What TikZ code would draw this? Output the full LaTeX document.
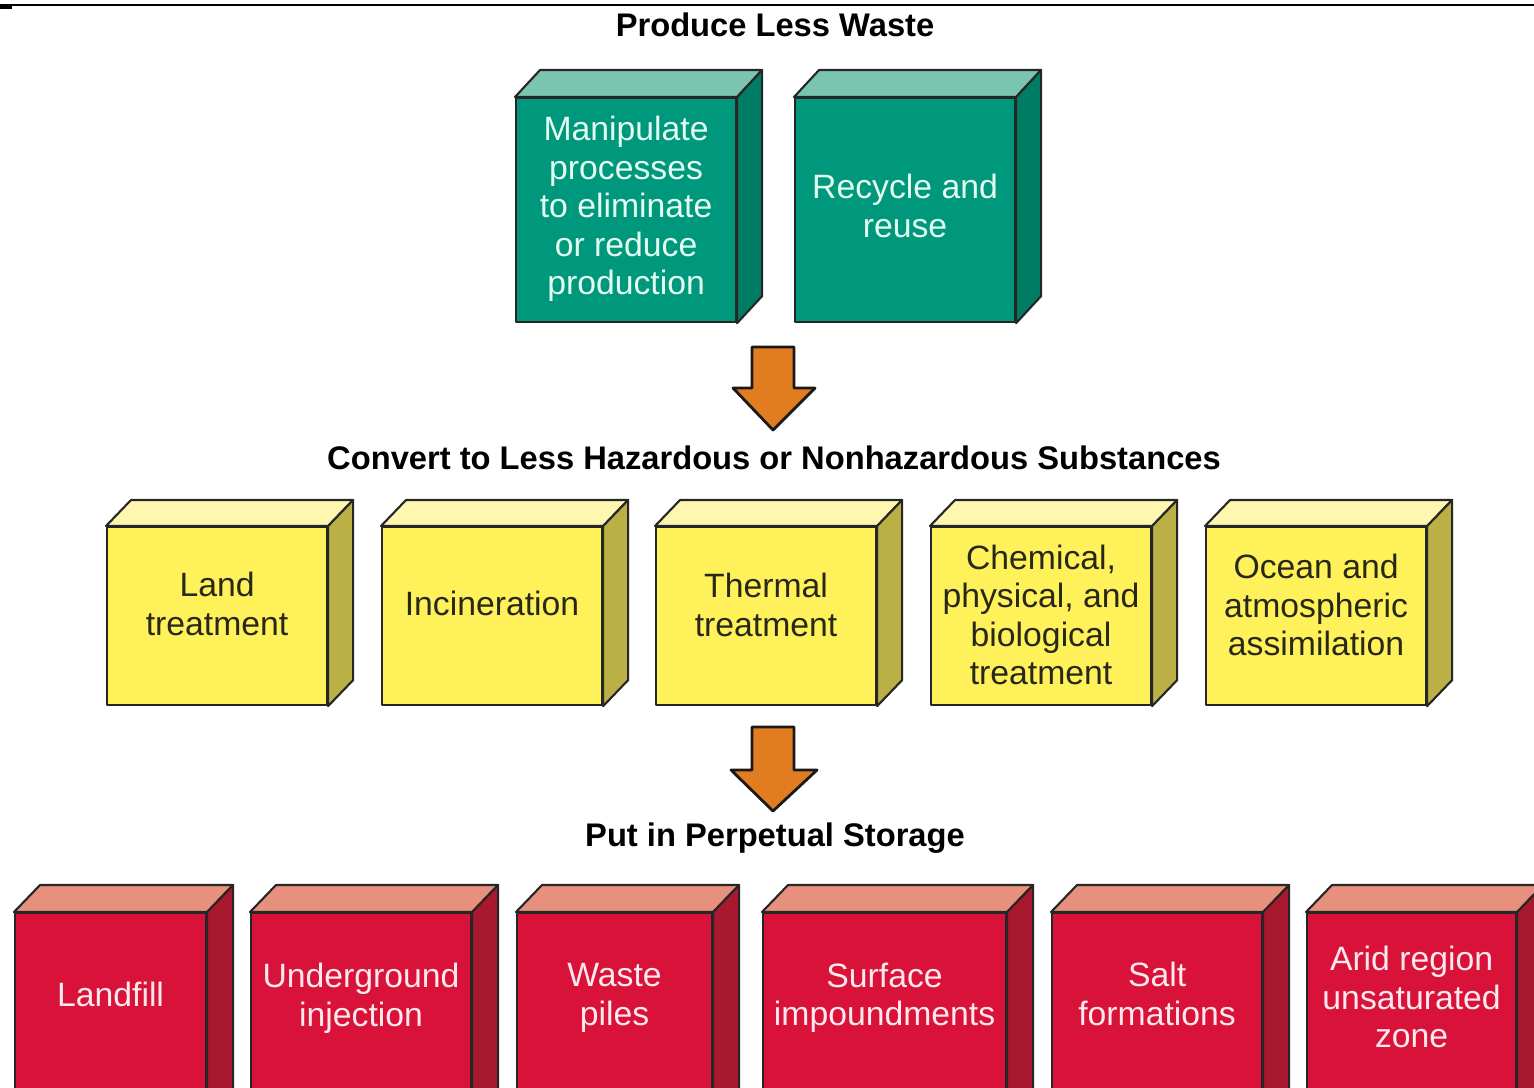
\documentclass[tikz,border=0pt]{standalone}
\usepackage{fontspec}
\setmainfont{Liberation Sans}

\definecolor{tealfront}{RGB}{0,152,124}
\definecolor{tealtop}{RGB}{122,196,176}
\definecolor{tealside}{RGB}{0,124,100}
\definecolor{tealtext}{RGB}{226,252,240}
\definecolor{yellowfront}{RGB}{255,241,90}
\definecolor{yellowtop}{RGB}{255,246,176}
\definecolor{yellowside}{RGB}{186,176,70}
\definecolor{yellowtext}{RGB}{40,40,24}
\definecolor{redfront}{RGB}{216,18,56}
\definecolor{redtop}{RGB}{232,144,126}
\definecolor{redside}{RGB}{168,24,46}
\definecolor{redtext}{RGB}{255,232,238}
\definecolor{arroworange}{RGB}{226,124,32}

\begin{document}
\begin{tikzpicture}
[ line width=0.6pt, line join=round
, boxtext/.style={font=\fontsize{9.6}{10.95}\selectfont, align=center}
, heading/.style={font=\fontsize{9.3}{11}\selectfont\bfseries}
, front/.style={rectangle, draw=black!85, anchor=north west, inner sep=0pt, minimum width=2.2cm, boxtext}
, tealbox/.style={front, fill=tealfront, minimum height=2.24cm}
, teallabel/.style={boxtext, text=tealtext}
, yellowbox/.style={front, fill=yellowfront, minimum height=1.78cm}
, yellowlabel/.style={boxtext, text=yellowtext}
, redbox/.style={front, fill=redfront, minimum height=2.2cm}
, redlabel/.style={boxtext, text=redtext}
, face/.style={draw=black!85}
, bigarrow/.style={draw=black!90, fill=arroworange, line width=0.8pt}
]
\useasboundingbox (0,0) rectangle (15.34,-10.87);
\clip (0,0) rectangle (15.34,-10.87);

% rule at the top
\draw [line width=0.02cm] (0,-0.05) -- (15.34,-0.05);
\fill (0,-0.04) rectangle (0.12,-0.09);

% headings
\node (produce) [heading] at (7.75,-0.25) {Produce Less Waste};
\node (convert) [heading] at (7.74,-4.58) {Convert to Less Hazardous or Nonhazardous Substances};
\node (storage) [heading] at (7.75,-8.38) {Put in Perpetual Storage};

% first row
\foreach \n/\x/\dy/\t in {manip/5.15/1.12/{Manipulate\\processes\\to eliminate\\or reduce\\production}, recycle/7.94/1.09/{Recycle and\\reuse}} {
  \node (\n) [tealbox] at (\x,-0.97) {};
  \node (\n-text) [teallabel] at ([yshift=-\dy cm]\n.north) {\t};
  \draw [face, fill=tealtop] (\n.north west) -- ++(0.25,0.27) -- ([shift={(0.25,0.27)}]\n.north east) -- (\n.north east) -- cycle;
  \draw [face, fill=tealside] (\n.north east) -- ++(0.25,0.27) -- ([shift={(0.25,0.27)}]\n.south east) -- (\n.south east) -- cycle;
}

% second row
\foreach \n/\x/\dy/\t in {land/1.06/0.78/{Land\\treatment}, incin/3.81/0.77/Incineration, thermal/6.55/0.79/{Thermal\\treatment}, chem/9.30/0.89/{Chemical,\\physical, and\\biological\\treatment}, ocean/12.05/0.79/{Ocean and\\atmospheric\\assimilation}} {
  \node (\n) [yellowbox] at (\x,-5.26) {};
  \node (\n-text) [yellowlabel] at ([yshift=-\dy cm]\n.north) {\t};
  \draw [face, fill=yellowtop] (\n.north west) -- ++(0.25,0.26) -- ([shift={(0.25,0.26)}]\n.north east) -- (\n.north east) -- cycle;
  \draw [face, fill=yellowside] (\n.north east) -- ++(0.25,0.26) -- ([shift={(0.25,0.26)}]\n.south east) -- (\n.south east) -- cycle;
}

% third row, cut off by the lower edge
\foreach \n/\x/\w/\dy/\t in {landfill/0.14/1.91/0.82/Landfill, inject/2.50/2.20/0.86/{Underground\\injection}, piles/5.16/1.95/0.86/{Waste\\piles}, surface/7.62/2.43/0.86/{Surface\\impoundments}, salt/10.51/2.10/0.82/{Salt\\formations}, arid/13.06/2.09/0.85/{Arid region\\unsaturated\\zone}} {
  \node (\n) [redbox, minimum width=\w cm] at (\x,-9.12) {};
  \node (\n-text) [redlabel] at ([yshift=-\dy cm]\n.north) {\t};
  \draw [face, fill=redtop] (\n.north west) -- ++(0.26,0.27) -- ([shift={(0.26,0.27)}]\n.north east) -- (\n.north east) -- cycle;
  \draw [face, fill=redside] (\n.north east) -- ++(0.26,0.27) -- ([shift={(0.26,0.27)}]\n.south east) -- (\n.south east) -- cycle;
}

% arrows between the rows
\coordinate (arrowA) at (7.73,-3.47);
\coordinate (arrowB) at (7.73,-7.27);
\draw [bigarrow, shift={(arrowA)}] (-0.21,0) -- (0.21,0) -- (0.21,-0.41) -- (0.42,-0.41) -- (0,-0.83) -- (-0.40,-0.41) -- (-0.21,-0.41) -- cycle;
\draw [bigarrow, shift={(arrowB)}] (-0.21,0) -- (0.21,0) -- (0.21,-0.43) -- (0.44,-0.43) -- (0,-0.84) -- (-0.42,-0.43) -- (-0.21,-0.43) -- cycle;
\end{tikzpicture}
\end{document}
